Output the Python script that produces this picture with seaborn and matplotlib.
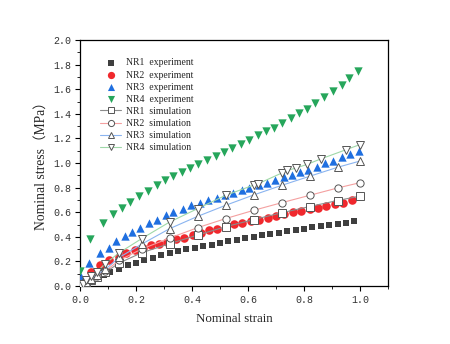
import matplotlib
matplotlib.use("Agg")
import matplotlib.pyplot as plt
from matplotlib.ticker import MultipleLocator
import seaborn as sns
import pandas as pd

# ---------------- data ----------------
nr1_exp_x = [0.0, 0.045, 0.084, 0.108, 0.139, 0.171, 0.20, 0.23, 0.26, 0.29, 0.32, 0.35, 0.38, 0.41, 0.44,
             0.47, 0.50, 0.53, 0.56, 0.59, 0.62, 0.65, 0.68, 0.71, 0.74, 0.77, 0.80, 0.83, 0.86, 0.89,
             0.92, 0.95, 0.98]
nr1_exp_y = [0.02, 0.07, 0.087, 0.114, 0.141, 0.168, 0.187, 0.214, 0.23, 0.249, 0.268, 0.285, 0.298, 0.312,
             0.322, 0.336, 0.352, 0.366, 0.377, 0.393, 0.398, 0.412, 0.42, 0.431, 0.444, 0.458, 0.466,
             0.48, 0.488, 0.499, 0.507, 0.515, 0.527]

nr2_exp_x = [0.0, 0.04, 0.072, 0.103, 0.139, 0.165, 0.195, 0.225, 0.255, 0.282, 0.311, 0.342, 0.372, 0.402,
             0.431, 0.46, 0.49, 0.52, 0.55, 0.58, 0.61, 0.64, 0.67, 0.70, 0.73, 0.76, 0.79, 0.82, 0.85,
             0.88, 0.91, 0.94, 0.97]
nr2_exp_y = [0.03, 0.11, 0.168, 0.209, 0.236, 0.268, 0.295, 0.312, 0.331, 0.344, 0.358, 0.379, 0.393, 0.412,
             0.431, 0.453, 0.466, 0.485, 0.501, 0.512, 0.528, 0.539, 0.553, 0.566, 0.585, 0.598, 0.61,
             0.625, 0.638, 0.652, 0.665, 0.678, 0.697]

nr3_exp_x = [0.004, 0.031, 0.072, 0.103, 0.127, 0.159, 0.187, 0.215, 0.246, 0.275, 0.306, 0.333, 0.368,
             0.398, 0.428, 0.458, 0.488, 0.518, 0.548, 0.578, 0.605, 0.638, 0.667, 0.697, 0.727, 0.757,
             0.786, 0.816, 0.847, 0.876, 0.905, 0.936, 0.966, 0.996]
nr3_exp_y = [0.07, 0.187, 0.268, 0.312, 0.363, 0.404, 0.44, 0.474, 0.512, 0.539, 0.575, 0.60, 0.626, 0.656,
             0.675, 0.696, 0.718, 0.737, 0.756, 0.778, 0.80, 0.818, 0.837, 0.859, 0.886, 0.904, 0.925,
             0.945, 0.970, 0.996, 1.02, 1.048, 1.074, 1.097]

nr4_exp_x = [0.0, 0.034, 0.082, 0.118, 0.151, 0.179, 0.211, 0.244, 0.274, 0.303, 0.333, 0.363, 0.392,
             0.422, 0.455, 0.485, 0.514, 0.543, 0.574, 0.604, 0.634, 0.664, 0.694, 0.723, 0.753, 0.781,
             0.811, 0.840, 0.870, 0.903, 0.934, 0.962, 0.992]
nr4_exp_y = [0.12, 0.385, 0.512, 0.589, 0.635, 0.683, 0.729, 0.775, 0.825, 0.859, 0.892, 0.927, 0.962,
             0.995, 1.027, 1.057, 1.093, 1.125, 1.158, 1.19, 1.225, 1.258, 1.288, 1.328, 1.366, 1.405,
             1.442, 1.491, 1.537, 1.585, 1.637, 1.691, 1.748]

sim_x = [0.0, 0.01, 0.02, 0.04, 0.06, 0.09, 0.14, 0.22, 0.32, 0.42, 0.52, 0.62, 0.72, 0.82, 0.92, 1.0]
nr1_sim_y = [0.0, 0.012, 0.025, 0.05, 0.075, 0.11, 0.187, 0.27, 0.344, 0.414, 0.482, 0.54, 0.595, 0.646, 0.695, 0.731]
nr2_sim_y = [0.0, 0.013, 0.027, 0.055, 0.082, 0.12, 0.209, 0.30, 0.39, 0.474, 0.548, 0.615, 0.677, 0.737, 0.797, 0.84]
nr3_sim_y = [0.0, 0.014, 0.03, 0.06, 0.09, 0.135, 0.232, 0.34, 0.466, 0.566, 0.656, 0.74, 0.818, 0.892, 0.965, 1.016]
nr4_sim_x = [0.0, 0.01, 0.02, 0.04, 0.06, 0.09, 0.14, 0.22, 0.32, 0.42, 0.52, 0.62, 0.635, 0.72, 0.74,
             0.77, 0.81, 0.86, 0.95, 1.0]
nr4_sim_y = [0.0, 0.02, 0.046, 0.08, 0.114, 0.182, 0.27, 0.385, 0.52, 0.629, 0.737, 0.82, 0.83, 0.918, 0.94,
             0.958, 0.988, 1.033, 1.108, 1.15]

exp_labels = ["NR1  experiment", "NR2  experiment", "NR3  experiment", "NR4  experiment"]
sim_labels = ["NR1  simulation", "NR2  simulation", "NR3  simulation", "NR4  simulation"]
x_ticks = [0.0, 0.2, 0.4, 0.6, 0.8, 1.0]
y_ticks = [0.0, 0.2, 0.4, 0.6, 0.8, 1.0, 1.2, 1.4, 1.6, 1.8, 2.0]
x_label = "Nominal strain"
y_label = "Nominal stress（MPa）"

# ---------------- style ----------------
sns.set_style("ticks")
plt.rcParams["font.family"] = ["Liberation Serif", "Noto Sans CJK SC", "DejaVu Sans"]

fig = plt.figure(figsize=(4.5, 3.44), dpi=100)
ax = fig.add_axes([80 / 450, 1 - 286 / 344, 308 / 450, 246 / 344])

exp_sets = [(nr1_exp_x, nr1_exp_y), (nr2_exp_x, nr2_exp_y), (nr3_exp_x, nr3_exp_y), (nr4_exp_x, nr4_exp_y)]
exp_colors = ["#3f3f3f", "#f0282d", "#1f6fe0", "#26a65b"]
exp_markers = ["s", "o", "^", "v"]
exp_sizes = [22, 38, 36, 36]
for (xs, ys), c, m, s, lab in zip(exp_sets, exp_colors, exp_markers, exp_sizes, exp_labels):
    df = pd.DataFrame({"x": xs, "y": ys})
    sns.scatterplot(data=df, x="x", y="y", ax=ax, color=c, marker=m, s=s,
                    linewidth=0, label=lab, zorder=3)

sim_sets = [(sim_x, nr1_sim_y), (sim_x, nr2_sim_y), (sim_x, nr3_sim_y), (nr4_sim_x, nr4_sim_y)]
sim_colors = ["#8c8c8c", "#f4a0a0", "#8ab4f0", "#9fd8a8"]
sim_markers = ["s", "o", "^", "v"]
for (xs, ys), c, m, lab in zip(sim_sets, sim_colors, sim_markers, sim_labels):
    df = pd.DataFrame({"x": xs, "y": ys})
    sns.lineplot(data=df, x="x", y="y", ax=ax, color=c, marker=m, markersize=5.2,
                 markerfacecolor="white", markeredgecolor="#555555", markeredgewidth=0.7,
                 linewidth=0.8, label=lab, zorder=4, sort=False)

ax.set_xlim(0, 1.1)
ax.set_ylim(0, 2.0)
ax.set_xticks(x_ticks)
ax.set_yticks(y_ticks)
ax.set_xticklabels([f"{v:.1f}" for v in x_ticks])
ax.set_yticklabels([f"{v:.1f}" for v in y_ticks])
ax.xaxis.set_minor_locator(MultipleLocator(0.1))
ax.yaxis.set_minor_locator(MultipleLocator(0.1))
ax.tick_params(which="major", direction="out", length=3.5, width=0.8, colors="black",
               labelsize=7.2, pad=3, top=False, right=False)
ax.tick_params(which="minor", direction="out", length=2, width=0.7, top=False, right=False)
for lbl in ax.get_xticklabels() + ax.get_yticklabels():
    lbl.set_family(["Liberation Mono", "DejaVu Sans Mono"])
    lbl.set_color("#333333")
for sp in ax.spines.values():
    sp.set_visible(True)
    sp.set_linewidth(0.9)
    sp.set_color("black")

ax.set_xlabel(x_label, fontsize=9.3, labelpad=6)
ax.set_ylabel(y_label, fontsize=9.8, labelpad=4)

handles, labels = ax.get_legend_handles_labels()
order = exp_labels + sim_labels
hmap = dict(zip(labels, handles))
ax.legend([hmap[l] for l in order], order, loc="upper left", bbox_to_anchor=(0.065, 0.925),
          frameon=False, fontsize=7, handlelength=2.2, handletextpad=0.5, labelspacing=0.32,
          borderpad=0, borderaxespad=0, markerscale=0.85)

fig.savefig("out.png", dpi=100)
